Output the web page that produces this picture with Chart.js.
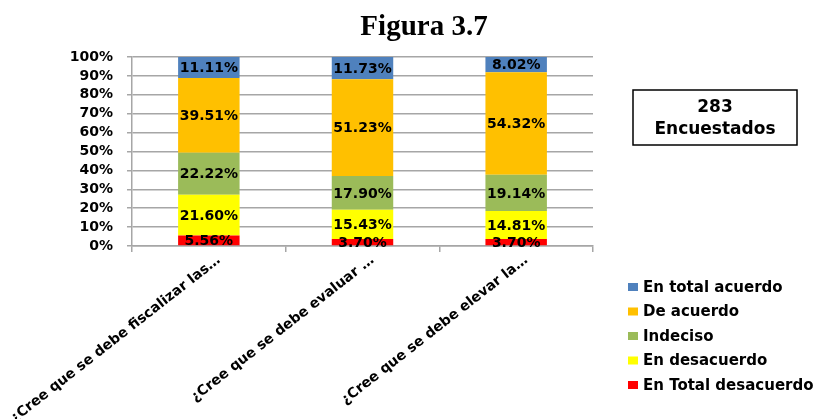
<!DOCTYPE html>
<html>
<head>
<meta charset="utf-8">
<script src="https://cdn.jsdelivr.net/npm/chart.js@4/dist/chart.umd.min.js"></script>
<style>
  html, body { margin: 0; padding: 0; background: #fff; }
  #wrap { width: 824px; height: 419px; }
</style>
</head>
<body>
<div id="wrap"><canvas id="myChart" width="824" height="419"></canvas></div>
<script>
const preguntas = [
  "¿Cree que se debe fiscalizar las…",
  "¿Cree que se debe evaluar …",
  "¿Cree que se debe elevar la…",
];
// respuestas (de abajo hacia arriba en la barra)
const totalDesacuerdo = [5.56, 3.7, 3.7];
const desacuerdo = [21.6, 15.43, 14.81];
const indeciso = [22.22, 17.9, 19.14];
const deAcuerdo = [39.51, 51.23, 54.32];
const totalAcuerdo = [11.11, 11.73, 8.02];
const yTicks = [0, 10, 20, 30, 40, 50, 60, 70, 80, 90, 100];
const tituloFigura = "Figura 3.7";
const encuestados = ["283", "Encuestados"];

const fontBold = "DejaVu Sans";

const dataFigura = {
  labels: preguntas,
  datasets: [
    { label: "En Total desacuerdo", data: totalDesacuerdo, backgroundColor: "#FF0000" },
    { label: "En desacuerdo", data: desacuerdo, backgroundColor: "#FFFF00" },
    { label: "Indeciso", data: indeciso, backgroundColor: "#9BBB59" },
    { label: "De acuerdo", data: deAcuerdo, backgroundColor: "#FFC000" },
    { label: "En total acuerdo", data: totalAcuerdo, backgroundColor: "#4F81BD" },
  ],
};

// etiquetas de valor, titulo, cuadro y leyenda
const extras = {
  id: "extras",
  afterDatasetsDraw(chart) {
    const ctx = chart.ctx;
    ctx.save();
    ctx.font = "bold 14px '" + fontBold + "'";
    ctx.fillStyle = "#000";
    ctx.textAlign = "center";
    ctx.textBaseline = "middle";
    chart.data.datasets.forEach((ds, i) => {
      chart.getDatasetMeta(i).data.forEach((bar, j) => {
        const y = (bar.y + bar.base) / 2;
        ctx.fillText(ds.data[j].toFixed(2) + "%", bar.x, y + 1);
      });
    });
    ctx.restore();
  },
  afterDraw(chart) {
    const ctx = chart.ctx;
    ctx.save();
    // titulo
    ctx.fillStyle = "#000";
    ctx.textAlign = "center";
    ctx.textBaseline = "alphabetic";
    ctx.font = "bold 29px 'Liberation Serif'";
    ctx.fillText(tituloFigura, 424, 35);

    // cuadro de encuestados
    ctx.strokeStyle = "#000";
    ctx.lineWidth = 1.5;
    ctx.strokeRect(633, 90, 164, 55);
    ctx.font = "bold 17px '" + fontBold + "'";
    ctx.textBaseline = "middle";
    ctx.fillText(encuestados[0], 715, 108);
    ctx.fillText(encuestados[1], 715, 130);

    // leyenda
    ctx.textAlign = "left";
    ctx.font = "bold 15px '" + fontBold + "'";
    const ds = chart.data.datasets.slice().reverse();
    ds.forEach((d, i) => {
      const y = 287 + i * 24.5;
      ctx.fillStyle = d.backgroundColor;
      ctx.fillRect(628, y - 4, 10, 8);
      ctx.fillStyle = "#000";
      ctx.fillText(d.label, 643, y + 1);
    });
    ctx.restore();
  },
};

const configFigura = {
  type: "bar",
  data: dataFigura,
  options: {
    responsive: false,
    animation: false,
    layout: { padding: { top: 57, right: 231, bottom: 0, left: 0 } },
    plugins: {
      legend: { display: false },
      title: { display: false },
      tooltip: { enabled: false },
    },
    datasets: {
      bar: { barPercentage: 0.4, categoryPercentage: 1 },
    },
    scales: {
      x: {
        stacked: true,
        afterFit: (s) => {
          s.height = 173;
          s.paddingLeft = 0;
          s.paddingRight = 0;
        },
        border: { color: "#a6a6a6", width: 1.5 },
        grid: {
          offset: true,
          drawOnChartArea: false,
          color: "#a6a6a6",
          lineWidth: 1.5,
          tickLength: 6,
        },
        ticks: {
          minRotation: 38,
          maxRotation: 38,
          autoSkip: false,
          labelOffset: 10,
          padding: 0,
          color: "#000",
          font: { family: fontBold, weight: "bold", size: 14 },
        },
      },
      y: {
        stacked: true,
        min: 0,
        max: 100,
        afterFit: (s) => { s.width = 132; },
        afterBuildTicks: (s) => { s.ticks = yTicks.map((v) => ({ value: v })); },
        border: { color: "#a6a6a6", width: 1.5 },
        grid: { color: "#a6a6a6", lineWidth: 1.5, tickLength: 5 },
        ticks: {
          autoSkip: false,
          padding: 14,
          color: "#000",
          font: { family: fontBold, weight: "bold", size: 14 },
          callback: (v) => v + "%",
        },
      },
    },
  },
  plugins: [extras],
};

const myChartFigura = new Chart(document.getElementById("myChart"), configFigura);
</script>
</body>
</html>
